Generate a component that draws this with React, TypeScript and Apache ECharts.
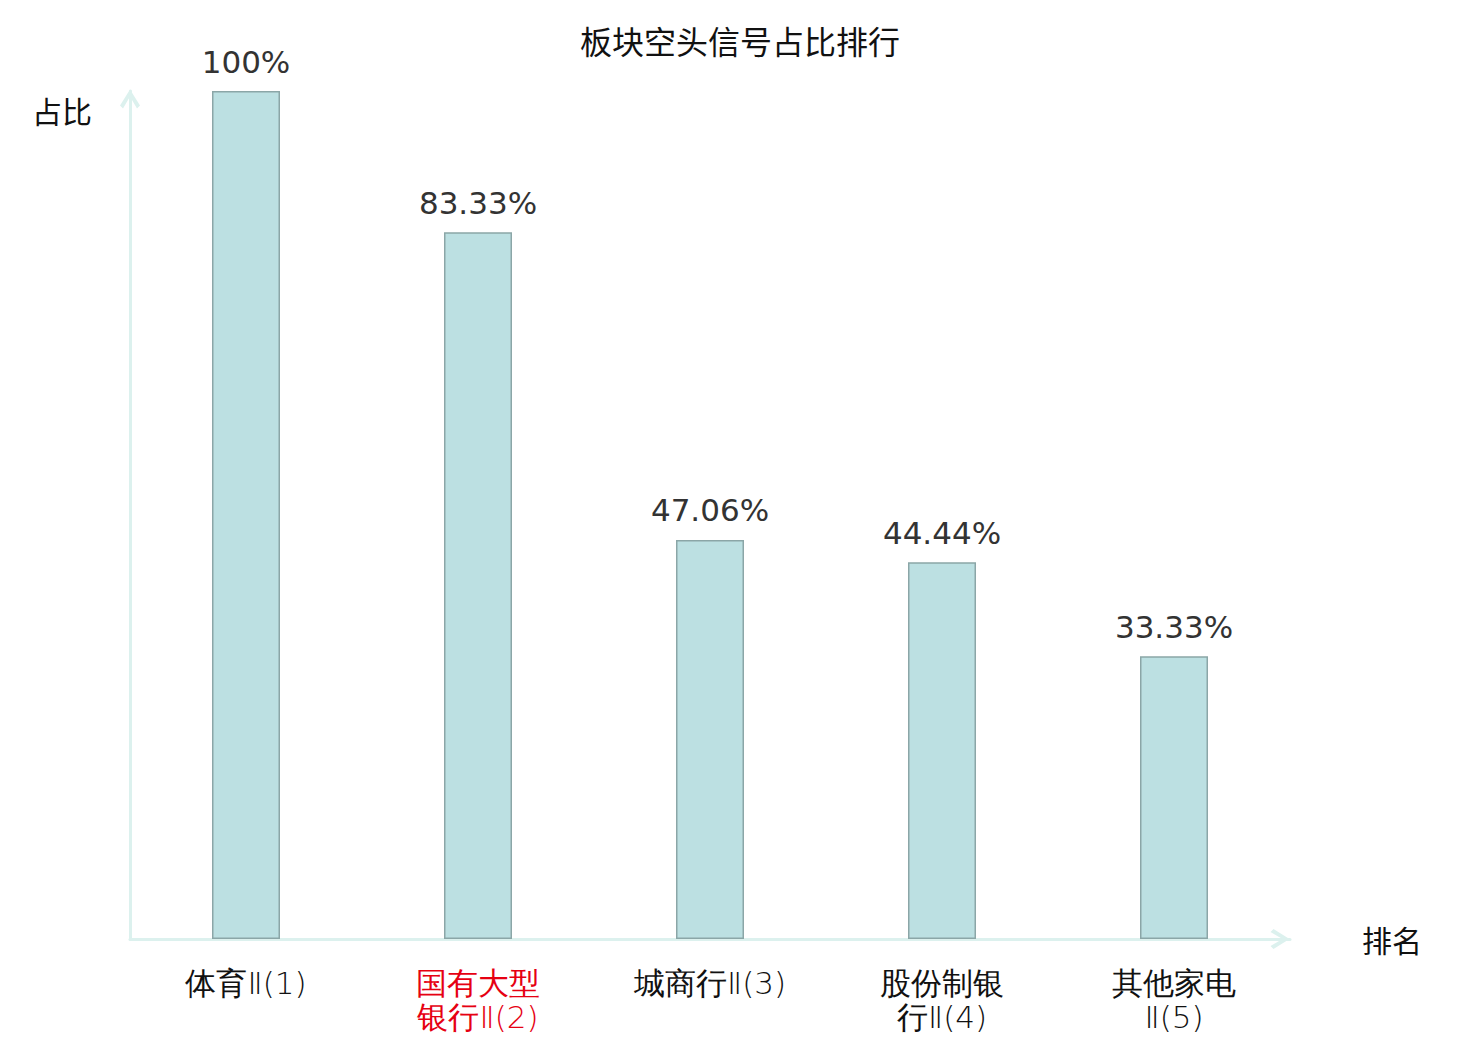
import React, { useEffect, useRef } from "react";
import * as echarts from "echarts";

const titleText = "板块空头信号占比排行";
const categories = [
  "体育Ⅱ(1)",
  "国有大型\n银行Ⅱ(2)",
  "城商行Ⅱ(3)",
  "股份制银\n行Ⅱ(4)",
  "其他家电\nⅡ(5)",
];
const values = [100, 83.33, 47.06, 44.44, 33.33];
const highlightIndex = 1;
const yAxisName = "占比";
const xAxisName = "排名";

const chevron =
  "path://M0,16 L10,0 L20,16 L17,19 L10,7 L3,19 Z";

export default function App() {
  const ref = useRef<HTMLDivElement>(null);
  useEffect(() => {
    document.body.style.margin = "0";
    const chart = echarts.init(ref.current!, null, { renderer: "svg" });
    const axisLineStyle = { color: "#dcf1ee", width: 3 };
    chart.setOption({
      animation: false,
      backgroundColor: "#ffffff",
      title: {
        text: titleText,
        left: "center",
        top: 19,
        textStyle: {
          fontSize: 32,
          fontWeight: "normal",
          color: "#111",
          fontFamily: "Noto Sans CJK SC",
        },
      },
      grid: { left: 130, right: 190, top: 91, bottom: 101 },
      xAxis: {
        type: "category",
        data: categories,
        name: xAxisName,
        nameLocation: "end",
        nameGap: 72,
        nameTextStyle: {
          fontSize: 30,
          color: "#111",
          fontFamily: "Noto Sans CJK SC",
        },
        axisLine: {
          show: true,
          lineStyle: axisLineStyle,
          symbol: ["none", chevron],
          symbolSize: [20, 21],
          symbolOffset: [0, -10],
        },
        axisTick: { show: false },
        axisLabel: {
          fontSize: 31,
          lineHeight: 34,
          margin: 27,
          fontFamily: "DejaVu Sans",
          fontWeight: 200,
          color: (_v: any, i: number) => (i === highlightIndex ? "#e60012" : "#111"),
        },
        splitLine: { show: false },
      },
      yAxis: {
        type: "value",
        min: 0,
        max: 100,
        name: yAxisName,
        nameLocation: "end",
        nameGap: -19,
        nameTextStyle: {
          fontSize: 30,
          color: "#111",
          align: "right",
          verticalAlign: "middle",
          padding: [0, 38, 0, 0],
          fontFamily: "Noto Sans CJK SC",
        },
        axisLine: {
          show: true,
          lineStyle: axisLineStyle,
          symbol: ["none", chevron],
          symbolSize: [20, 21],
          symbolOffset: [0, -8],
        },
        axisTick: { show: false },
        axisLabel: { show: false },
        splitLine: { show: false },
      },
      series: [
        {
          type: "bar",
          data: values,
          barWidth: 68,
          itemStyle: {
            color: "#bce0e2",
            borderColor: "#8ba6a7",
            borderWidth: 1.5,
          },
          label: {
            show: true,
            position: "top",
            distance: 14,
            fontSize: 31,
            color: "#333",
            fontFamily: "DejaVu Sans",
            formatter: (p: any) => `${p.value}%`,
          },
        },
      ],
    });
    return () => chart.dispose();
  }, []);
  return <div ref={ref} style={{ width: 1480, height: 1040 }} />;
}
